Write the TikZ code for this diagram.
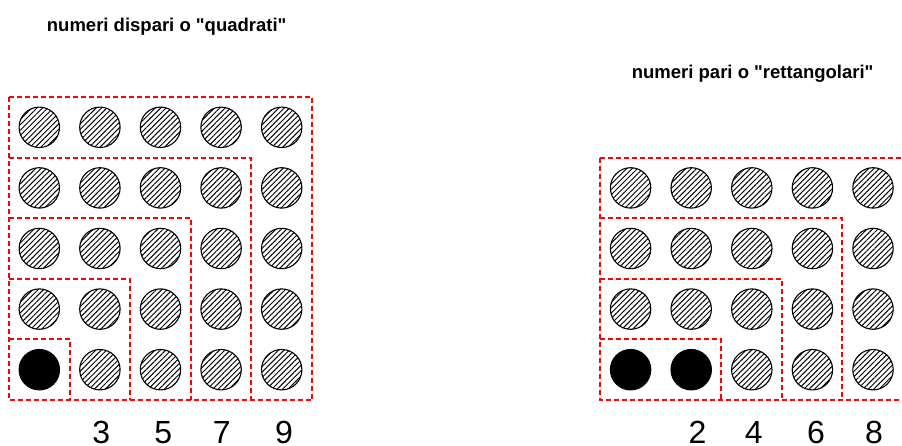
\documentclass[tikz,border=0pt]{standalone}
\usepackage{fontspec}
\setmainfont{Liberation Sans}
\usetikzlibrary{patterns.meta}
\definecolor{frameRed}{RGB}{255,0,0}
\begin{document}
\begin{tikzpicture}[x=1pt,y=-1pt,
  dot/.style={circle,draw=black,line width=1.1pt,minimum size=40.4pt,inner sep=0pt},
  hatched/.style={dot,pattern={Lines[angle=45,distance=3.8pt,line width=0.95pt]}},
  filled/.style={dot,fill=black},
  frame/.style={draw=frameRed,line width=1.4pt,dash pattern=on 5pt off 3pt},
  title/.style={font=\bfseries\fontsize{18.5}{22}\selectfont,anchor=base},
  count/.style={font=\fontsize{32}{38}\selectfont,anchor=base,inner sep=0pt}]
\useasboundingbox (0,0) rectangle (902,446);
\clip (0,0) rectangle (902,446);
\def\s{60.6}

% dashed frames of the odd numbers: nested gnomons of a 5x5 square
\draw[frame] (9,97) -- (9,400) -- (312,400);
\foreach \k in {1,...,5}{
  \pgfmathsetmacro{\c}{round(\s*\k)}
  \draw[frame] (9,{400-\c}) -- ({9+\c},{400-\c}) -- ({9+\c},400);
}

% dashed frames of the even numbers: rectangles k x (k+1)
\draw[frame] (600,158) -- (600,400) -- (905,400);
\foreach \k in {1,...,4}{
  \pgfmathsetmacro{\c}{round(\s*\k)}
  \pgfmathsetmacro{\w}{round(\s*(\k+1))}
  \draw[frame] (600,{400-\c}) -- ({600+\w},{400-\c}) -- ({600+\w},400);
}

% titles
\node[title] (tOdd) at (166.7,31.7) {numeri dispari o \textquotedbl quadrati\textquotedbl};
\node[title] (tEven) at (752.7,78.3) {numeri pari o \textquotedbl rettangolari\textquotedbl};

% odd numbers
\foreach \i in {0,...,4}{
  \foreach \j in {0,...,4}{
    \ifnum\i=0 \ifnum\j=4 \def\sty{filled}\else\def\sty{hatched}\fi\else\def\sty{hatched}\fi
    \node[\sty] (L-\i-\j) at ({39.3+\s*\i},{127.3+\s*\j}) {};
  }
}
\node[count] (n3) at (101.3,443) {3};
\node[count] (n5) at (163.3,443) {5};
\node[count] (n7) at (221.7,443) {7};
\node[count] (n9) at (284,443) {9};

% even numbers
\foreach \i in {0,...,4}{
  \foreach \j in {0,...,3}{
    \ifnum\j=3 \ifnum\i<2 \def\sty{filled}\else\def\sty{hatched}\fi\else\def\sty{hatched}\fi
    \node[\sty] (R-\i-\j) at ({630.6+\s*\i},{187.9+\s*\j}) {};
  }
}
\node[count] (n2) at (697.5,443) {2};
\node[count] (n4) at (753.8,443) {4};
\node[count] (n6) at (816,443) {6};
\node[count] (n8) at (874,443) {8};
\end{tikzpicture}
\end{document}
